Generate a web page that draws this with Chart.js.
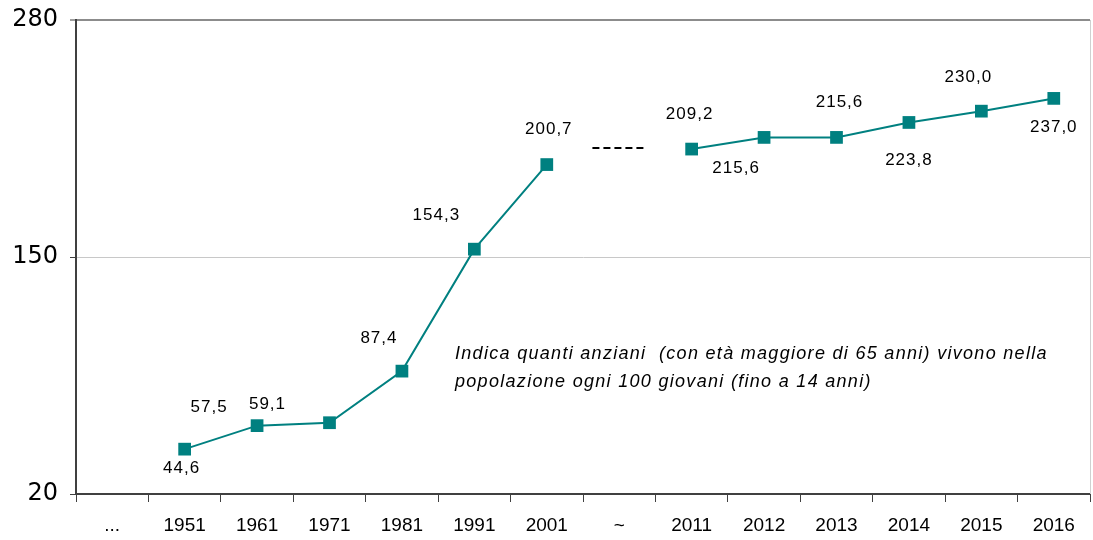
<!DOCTYPE html>
<html>
<head>
<meta charset="utf-8">
<script src="https://cdn.jsdelivr.net/npm/chart.js@4"></script>
<style>
html,body{margin:0;padding:0;background:#fff;overflow:hidden;}
#wrap{width:1093px;height:540px;position:relative;overflow:hidden;}
</style>
</head>
<body>
<div id="wrap"><canvas id="c" width="1099" height="540"></canvas></div>
<script>
const categories = ["...", "1951", "1961", "1971", "1981", "1991", "2001", "~", "2011", "2012", "2013", "2014", "2015", "2016"];
const values = [null, 44.6, 57.5, 59.1, 87.4, 154.3, 200.7, null, 209.2, 215.6, 215.6, 223.8, 230.0, 237.0];
const valueLabels = ["", "44,6", "57,5", "59,1", "87,4", "154,3", "200,7", "", "209,2", "215,6", "215,6", "223,8", "230,0", "237,0"];
const yTicks = [20, 150, 280];
const gapValue = 209.8;
const noteLines = ["Indica quanti anziani  (con età maggiore di 65 anni) vivono nella", "popolazione ogni 100 giovani (fino a 14 anni)"];

// label placement (style only)
const labelOffsets = {1:[-3,19],2:[-48,-18],3:[-62,-18],4:[-23,-33],5:[-38,-34],6:[2,-35],8:[-2,-35],9:[-28,31],10:[3,-35],11:[0,38],12:[-13,-34],13:[0,29]};

const TEAL = '#008080';

const extras = {
  id: 'extras',
  afterDatasetsDraw(chart) {
    const ctx = chart.ctx;
    const xs = chart.scales.x, ys = chart.scales.y;
    const area = chart.chartArea;
    ctx.save();
    ctx.strokeStyle = '#d0d0d0';
    ctx.lineWidth = 1;
    ctx.beginPath();
    ctx.moveTo(area.right + 0.5, area.top);
    ctx.lineTo(area.right + 0.5, area.bottom);
    ctx.stroke();
    const gx = xs.getPixelForValue(7);
    const gy = ys.getPixelForValue(gapValue);
    const half = (xs.getPixelForValue(8) - xs.getPixelForValue(7)) * 0.37;
    ctx.strokeStyle = '#000';
    ctx.lineWidth = 2;
    ctx.setLineDash([7, 4]);
    ctx.beginPath();
    ctx.moveTo(gx - half, gy);
    ctx.lineTo(gx + half, gy);
    ctx.stroke();
    ctx.setLineDash([]);
    const meta = chart.getDatasetMeta(0);
    ctx.fillStyle = '#000';
    ctx.font = '17px "Liberation Sans", Arial, sans-serif';
    ctx.textAlign = 'center';
    ctx.textBaseline = 'middle';
    try { ctx.letterSpacing = '1px'; } catch(e) {}
    meta.data.forEach((pt, i) => {
      if (values[i] == null || !labelOffsets[i]) return;
      const [dx, dy] = labelOffsets[i];
      ctx.fillText(valueLabels[i], pt.x + dx, pt.y + dy);
    });
    ctx.font = 'italic 18px "Liberation Sans", Arial, sans-serif';
    ctx.textAlign = 'left';
    try { ctx.letterSpacing = '1.3px'; } catch(e) {}
    ctx.fillText(noteLines[0], 455, 354);
    ctx.fillText(noteLines[1], 455, 382);
    try { ctx.letterSpacing = '0px'; } catch(e) {}
    ctx.restore();
  }
};

new Chart(document.getElementById('c'), {
  type: 'line',
  data: {
    labels: categories,
    datasets: [{
      data: values,
      borderColor: TEAL,
      backgroundColor: TEAL,
      borderWidth: 2,
      pointStyle: 'rect',
      pointRadius: 9,
      pointHoverRadius: 9,
      pointBackgroundColor: TEAL,
      pointBorderColor: TEAL,
      pointBorderWidth: 0,
      spanGaps: false,
      tension: 0
    }]
  },
  options: {
    responsive: false,
    animation: false,
    events: [],
    layout: { padding: { top: 20, right: 0, left: 0, bottom: 0 } },
    plugins: { legend: { display: false }, tooltip: { enabled: false } },
    scales: {
      x: {
        offset: true,
        grid: { offset: true, drawOnChartArea: false, drawTicks: true, tickLength: 8, tickColor: '#404040', tickWidth: 1 },
        border: { color: '#404040', width: 2 },
        ticks: { color: '#000', font: { family: '"Liberation Sans Narrow", "Liberation Sans", Arial', size: 19 }, padding: 12, maxRotation: 0, autoSkip: false },
        afterFit(s) { s.height = 46; s.paddingLeft = 0; s.paddingRight = 0; }
      },
      y: {
        min: 20, max: 280,
        afterBuildTicks(s) { s.ticks = yTicks.map(v => ({ value: v })); },
        grid: {
          color: c => c.tick && c.tick.value === 280 ? '#8c8c8c' : (c.tick && c.tick.value === 150 ? '#c8c8c8' : 'rgba(0,0,0,0)'),
          lineWidth: c => c.tick && c.tick.value === 280 ? 2 : 1,
          tickColor: '#404040', tickLength: 6, tickWidth: 1
        },
        border: { color: '#404040', width: 2 },
        ticks: { color: '#000', font: { family: '"DejaVu Sans", sans-serif', size: 24 }, padding: 12 },
        afterFit(s) { s.width = 76; s.paddingTop = 0; s.paddingBottom = 0; }
      }
    }
  },
  plugins: [extras]
});
</script>
</body>
</html>
